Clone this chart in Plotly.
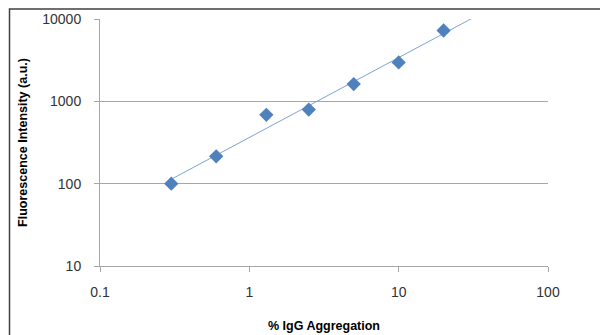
import numpy as np
import plotly.graph_objects as go

x_agg = [0.3, 0.6, 1.3, 2.5, 5, 10, 20]
y_fluor = [100, 215, 685, 795, 1620, 2970, 7250]
x_ticks = [0.1, 1, 10, 100]
y_ticks = [10, 100, 1000, 10000]

# power-law trendline (least squares in log space), extended forward
b, a = np.polyfit(np.log10(x_agg), np.log10(y_fluor), 1)
tx = np.logspace(np.log10(x_agg[0]), np.log10(40), 60)
ty = 10 ** (a + b * np.log10(tx))

col = "#4F81BD"
fam = "Liberation Sans, Arial"
fig = go.Figure()
fig.add_trace(go.Scatter(x=tx, y=ty, mode="lines", line=dict(color="#7DA3D3", width=1),
                         hoverinfo="skip", showlegend=False))
fig.add_trace(go.Scatter(x=x_agg, y=y_fluor, mode="markers",
                         marker=dict(symbol="diamond", size=11, color=col,
                                     line=dict(width=0)), showlegend=False))

font = dict(family=fam, size=14, color="#333333")
fig.update_layout(
    width=608, height=335,
    margin=dict(l=92, r=68, t=11, b=77),
    paper_bgcolor="white", plot_bgcolor="white",
    font=font,
    xaxis=dict(type="log", range=[-1, 2], tickvals=x_ticks, ticktext=[str(v) for v in x_ticks],
               showgrid=False, showline=True, linecolor="#A6A6A6", linewidth=1,
               ticks="outside", ticklen=5, tickcolor="#A6A6A6", ticklabelstandoff=8,
               zeroline=False, automargin=False,
               title=dict(text="<b>% IgG Aggregation</b>", standoff=22,
                          font=dict(family=fam, size=12.5, color="#000000"))),
    yaxis=dict(type="log", range=[1, 4], tickvals=y_ticks, ticktext=[str(v) for v in y_ticks],
               showgrid=True, gridcolor="#A6A6A6", gridwidth=1,
               showline=True, linecolor="#A6A6A6", linewidth=1,
               ticks="outside", ticklen=5, tickcolor="#A6A6A6", ticklabelstandoff=10,
               zeroline=False, automargin=False,
               title=dict(text="<b>Fluorescence Intensity (a.u.)</b>", standoff=11,
                          font=dict(family=fam, size=12.5, color="#000000"))),
)
fig.add_shape(type="rect", xref="paper", yref="paper", x0=-0.2020, x1=1.3, y0=-0.5, y1=1.0405,
              line=dict(color="#404040", width=1.5), layer="below")
fig.write_html("out.html")
